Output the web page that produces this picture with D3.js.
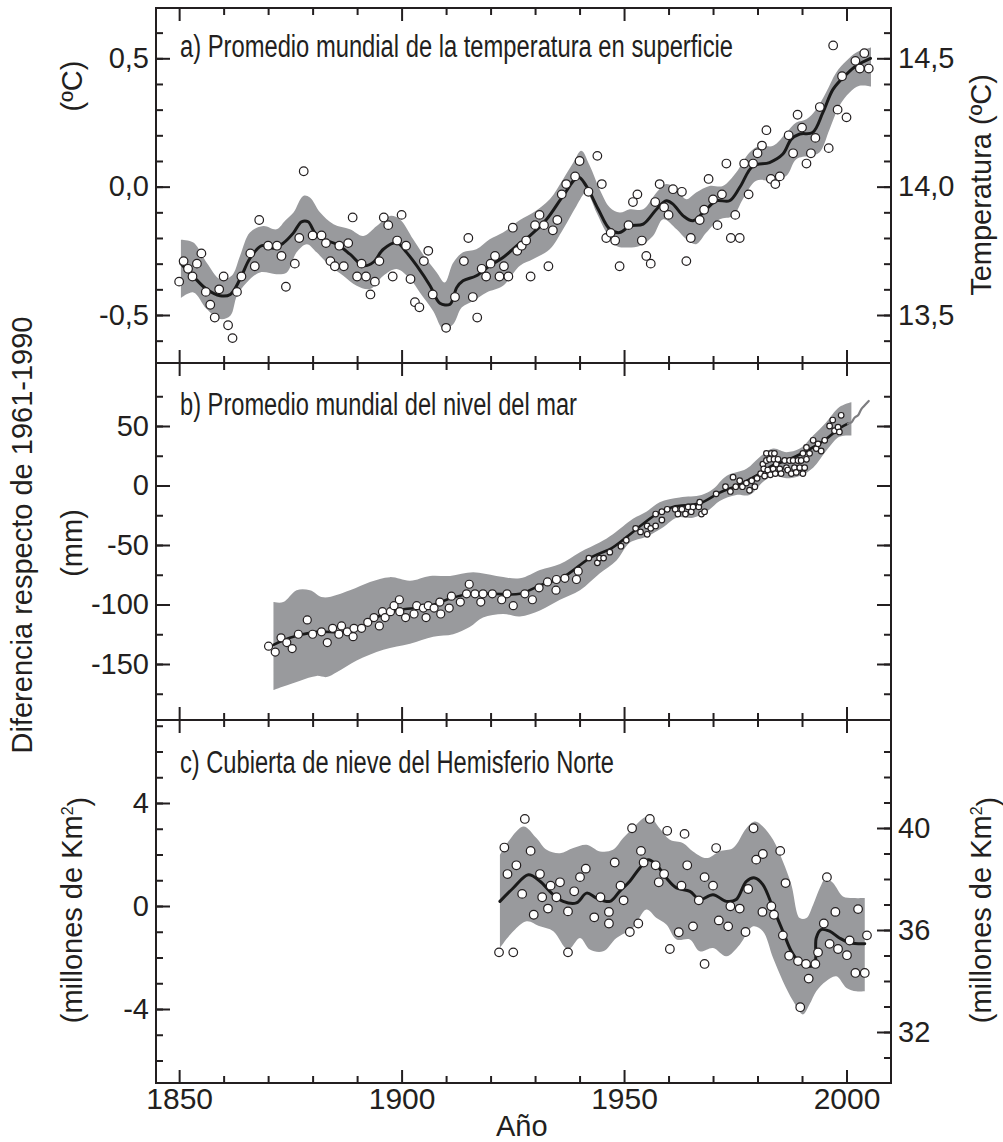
<!DOCTYPE html>
<html>
<head>
<meta charset="utf-8">
<script src="https://cdn.jsdelivr.net/npm/d3@7"></script>
<style>
  body { margin: 0; background: #fff; }
  text { font-family: "Liberation Sans", Arial, Helvetica, sans-serif; fill: #231f20; }
</style>
</head>
<body>
<svg id="chart" width="1003" height="1142"></svg>
<script>
// ---- data ----
const yearLabels = [1850, 1900, 1950, 2000];

// a) global mean surface temperature anomaly (ºC)
const tempPoints = [[1850,-0.37],[1851,-0.29],[1852,-0.32],[1853,-0.35],[1854,-0.30],[1855,-0.26],[1856,-0.41],[1857,-0.46],[1858,-0.51],[1859,-0.40],[1860,-0.35],[1861,-0.54],[1862,-0.59],[1863,-0.41],[1864,-0.35],[1866,-0.26],[1867,-0.31],[1868,-0.13],[1870,-0.23],[1872,-0.23],[1873,-0.27],[1874,-0.39],[1876,-0.30],[1877,-0.20],[1878,0.06],[1880,-0.19],[1882,-0.19],[1883,-0.22],[1884,-0.29],[1885,-0.31],[1886,-0.23],[1887,-0.31],[1888,-0.22],[1889,-0.12],[1890,-0.35],[1891,-0.30],[1892,-0.35],[1893,-0.42],[1894,-0.37],[1895,-0.29],[1896,-0.12],[1897,-0.15],[1898,-0.35],[1899,-0.21],[1900,-0.11],[1901,-0.23],[1902,-0.36],[1903,-0.45],[1904,-0.47],[1905,-0.29],[1906,-0.25],[1907,-0.42],[1910,-0.55],[1912,-0.43],[1914,-0.29],[1915,-0.20],[1916,-0.43],[1917,-0.51],[1918,-0.32],[1919,-0.35],[1920,-0.30],[1921,-0.27],[1922,-0.35],[1923,-0.31],[1924,-0.35],[1925,-0.16],[1926,-0.25],[1927,-0.23],[1928,-0.21],[1929,-0.35],[1930,-0.15],[1931,-0.11],[1932,-0.15],[1933,-0.31],[1934,-0.17],[1935,-0.13],[1936,-0.03],[1937,0.01],[1939,0.04],[1940,0.10],[1942,-0.02],[1944,0.12],[1945,0.01],[1946,-0.20],[1947,-0.18],[1948,-0.21],[1949,-0.31],[1951,-0.15],[1952,-0.06],[1953,-0.03],[1954,-0.21],[1955,-0.27],[1956,-0.30],[1957,-0.06],[1958,0.01],[1959,-0.08],[1960,-0.11],[1961,-0.01],[1963,-0.02],[1964,-0.29],[1965,-0.20],[1967,-0.13],[1968,-0.09],[1969,0.03],[1970,-0.05],[1971,-0.15],[1972,-0.03],[1973,0.09],[1974,-0.20],[1975,-0.11],[1976,-0.20],[1977,0.09],[1978,-0.03],[1979,0.09],[1980,0.13],[1981,0.16],[1982,0.22],[1983,0.03],[1984,0.01],[1985,0.04],[1987,0.20],[1988,0.13],[1989,0.28],[1990,0.23],[1991,0.09],[1992,0.13],[1993,0.19],[1994,0.31],[1996,0.15],[1997,0.55],[1998,0.30],[1999,0.43],[2000,0.27],[2002,0.49],[2003,0.46],[2004,0.52],[2005,0.46]];
const tempLine = [[1850.4,-0.30],[1853.2,-0.35],[1856.2,-0.40],[1859.2,-0.425],[1861.5,-0.42],[1863.7,-0.36],[1865.9,-0.28],[1868.6,-0.23],[1871.2,-0.24],[1873.4,-0.22],[1875.7,-0.18],[1877.5,-0.137],[1879,-0.137],[1880.5,-0.18],[1882.4,-0.205],[1885.4,-0.224],[1888.4,-0.263],[1891.4,-0.308],[1893.6,-0.295],[1895.9,-0.244],[1898.9,-0.218],[1901.1,-0.256],[1903.4,-0.308],[1906.4,-0.386],[1908.6,-0.454],[1910.9,-0.458],[1912.4,-0.393],[1913.8,-0.367],[1916.8,-0.347],[1919.8,-0.308],[1922.8,-0.276],[1926.6,-0.22],[1928.8,-0.192],[1932.6,-0.127],[1936.3,-0.036],[1939.7,0.038],[1941.5,0.003],[1944.2,-0.088],[1946.8,-0.166],[1949,-0.179],[1951.3,-0.153],[1954.3,-0.146],[1957.3,-0.088],[1959.5,-0.055],[1961,-0.068],[1963.3,-0.114],[1965.5,-0.133],[1968.5,-0.088],[1970.7,-0.055],[1973.7,-0.055],[1976,-0.003],[1979,0.081],[1982.7,0.094],[1985.7,0.127],[1987.6,0.185],[1989.5,0.205],[1992.4,0.211],[1994.7,0.289],[1997,0.38],[2000,0.438],[2002.2,0.471],[2005.4,0.50]];
const tempUpper = [[1850.4,-0.207],[1853.2,-0.218],[1856.2,-0.296],[1859.2,-0.36],[1861.8,-0.347],[1863.7,-0.269],[1865.9,-0.179],[1868.9,-0.153],[1871.9,-0.166],[1873.8,-0.133],[1875.7,-0.101],[1877.9,-0.036],[1879.4,-0.042],[1881.7,-0.101],[1884.7,-0.146],[1888.4,-0.166],[1891.4,-0.192],[1894.4,-0.153],[1897.4,-0.114],[1899.6,-0.127],[1902.6,-0.205],[1905.6,-0.283],[1907.9,-0.334],[1909.7,-0.373],[1911.6,-0.296],[1913.8,-0.256],[1916.8,-0.244],[1919.8,-0.205],[1922.8,-0.179],[1926.6,-0.13],[1929.6,-0.101],[1933.3,-0.049],[1936.3,0.029],[1938.6,0.094],[1940.4,0.14],[1942.3,0.081],[1944.5,-0.01],[1946.8,-0.081],[1949,-0.101],[1951.3,-0.088],[1954.3,-0.088],[1957.3,-0.023],[1959.5,0.01],[1961.8,-0.01],[1964,-0.049],[1966.2,-0.023],[1969.2,0.003],[1972.2,0.003],[1975.2,0.055],[1978.2,0.133],[1980.5,0.159],[1983.5,0.159],[1986.5,0.211],[1988.7,0.25],[1991,0.263],[1993.2,0.302],[1995.4,0.367],[1997.7,0.445],[2000,0.49],[2002.2,0.523],[2005.5,0.542]];
const tempLower = [[1850.4,-0.434],[1853.2,-0.412],[1856.2,-0.477],[1859.2,-0.516],[1861.5,-0.503],[1863,-0.425],[1865.2,-0.373],[1868.2,-0.334],[1871.9,-0.341],[1874.2,-0.334],[1876.4,-0.256],[1878.7,-0.224],[1880.9,-0.256],[1883.9,-0.308],[1886.9,-0.347],[1889.9,-0.386],[1892.9,-0.399],[1895.9,-0.347],[1898.9,-0.321],[1901.9,-0.36],[1904.1,-0.412],[1907.1,-0.484],[1909.4,-0.555],[1911.6,-0.536],[1913.5,-0.471],[1916.1,-0.445],[1919.1,-0.412],[1922.8,-0.386],[1926.6,-0.308],[1929.6,-0.282],[1933.3,-0.244],[1936.3,-0.166],[1939.3,-0.075],[1941.5,-0.023],[1943.8,-0.101],[1946,-0.179],[1948.3,-0.231],[1950.5,-0.237],[1953.5,-0.231],[1956.5,-0.192],[1958.8,-0.127],[1961.8,-0.166],[1964,-0.205],[1966.2,-0.224],[1968.5,-0.179],[1971.5,-0.127],[1974.5,-0.114],[1976.7,-0.049],[1979.7,0.023],[1983.5,0.023],[1986.5,0.042],[1988.7,0.107],[1991.7,0.12],[1993.9,0.133],[1996.2,0.224],[1998.4,0.315],[2000.7,0.367],[2002.9,0.393],[2005.5,0.39]];

// b) global mean sea level (mm)
const seaPointsLarge = [[1870.1,-135],[1871.6,-140],[1872.9,-128],[1874.2,-132],[1875.4,-137],[1876.8,-125],[1878.8,-113],[1880,-125],[1882,-123],[1883.3,-132],[1884.5,-120],[1885.9,-125],[1886.5,-118],[1887.8,-123],[1889.1,-127],[1889.3,-120],[1891,-120],[1892.4,-115],[1893.8,-111],[1895,-118],[1895.7,-106],[1896.3,-111],[1897.5,-106],[1898.3,-101],[1899.5,-96],[1899.6,-106],[1900.9,-111],[1902.8,-108],[1903.4,-101],[1904.9,-103],[1905.5,-111],[1906,-101],[1907.3,-103],[1908.6,-98],[1908.8,-108],[1910.7,-103],[1911.2,-93],[1913.2,-98],[1914.6,-91],[1915.2,-83],[1916.5,-91],[1917.8,-98],[1918.3,-91],[1920.4,-91],[1922.5,-96],[1923.7,-91],[1925.1,-101],[1927.7,-91],[1929.4,-96],[1930.9,-86],[1932.8,-81],[1934.7,-88],[1934.8,-79],[1936.7,-78],[1939.3,-79],[1939.7,-72]];
const seaPointsSmall = [[1942.1,-61],[1944,-65],[1944.5,-61],[1945.4,-61],[1946.8,-56],[1949.3,-51],[1950.5,-46],[1952.6,-36],[1953.7,-39],[1955.2,-41],[1955.2,-34],[1956,-36],[1957.1,-34],[1957.1,-24],[1958.5,-29],[1958.5,-22],[1959.7,-20],[1961.5,-20],[1962.1,-24],[1963,-20],[1963.8,-24],[1964.4,-18],[1965.1,-22],[1965.5,-18],[1966.8,-18],[1967,-14],[1967.4,-24],[1968.1,-22],[1970.7,-7],[1972.8,-1],[1973.9,-5],[1974.5,7],[1975.1,-1],[1976,4],[1976.6,-1],[1977.5,2],[1978.2,-4],[1978.7,4],[1979.4,-1],[1979.9,6],[1980.7,10],[1981.2,18],[1981.4,14],[1981.6,8],[1982,21],[1982,27],[1982.3,13],[1982.7,22],[1982.9,9],[1983.1,27],[1983.5,14],[1983.7,22],[1983.8,27],[1984,10],[1984.2,18],[1984.6,22],[1985,14],[1985.3,10],[1986.1,21],[1986.5,15],[1986.8,13],[1987.2,21],[1987.6,10],[1988,21],[1988.3,15],[1988.7,11],[1989.1,21],[1989.5,15],[1989.8,21],[1990.2,27],[1990.2,10],[1990.6,15],[1991,32],[1991,22],[1991.7,27],[1992.5,38],[1993.2,31],[1993.6,35],[1994.3,29],[1995.1,38],[1996.2,50],[1996.9,55],[1997.3,46],[1998.1,49],[1998.4,45],[1998.8,59]];
const seaLine = [[1871.2,-134],[1874.9,-128],[1880.9,-123],[1886.9,-123],[1891.4,-118],[1895.9,-108],[1900.4,-104],[1905.6,-102],[1910.9,-95],[1915.3,-91],[1920.6,-91],[1926.6,-91],[1931.1,-84],[1936.3,-77],[1942.3,-61],[1947.5,-52],[1952,-39],[1957.3,-24],[1961,-18],[1967,-15],[1971.5,-6],[1976,1],[1980.5,10],[1983.5,17],[1986.5,21],[1991,29],[1995.4,39],[1998.4,48],[2000.3,52]];
const seaSatellite = [[2000.3,52],[2001.1,53],[2001.8,57],[2002.6,59],[2003.3,64],[2004,67],[2005,71]];
const seaUpper = [[1871.2,-98],[1873.4,-98],[1876.4,-88],[1879.4,-88],[1882.4,-94],[1888.4,-88],[1892.9,-81],[1897.4,-77],[1901.9,-80],[1906.4,-76],[1910.9,-76],[1916.1,-73],[1921.3,-76],[1926.6,-78],[1931.1,-71],[1935.6,-66],[1940.1,-56],[1944.5,-48],[1947.5,-41],[1952,-28],[1955,-22],[1958,-14],[1962.5,-10],[1967.4,-8],[1970,-3],[1973,8],[1977.5,14],[1980.5,24],[1983.5,31],[1986.5,28],[1989.5,31],[1992.5,42],[1995.4,53],[1998.4,66],[2001.1,70]];
const seaLower = [[1871.2,-172],[1873.4,-169],[1877.2,-164],[1880.9,-160],[1883.2,-161],[1885.4,-157],[1889.9,-147],[1895.9,-138],[1901.9,-133],[1907.1,-127],[1911.6,-125],[1915.3,-119],[1918.3,-111],[1922.8,-108],[1926.6,-110],[1931.1,-105],[1935.6,-96],[1940.1,-88],[1944.5,-74],[1948.3,-63],[1951.3,-48],[1955,-43],[1958.8,-35],[1961.8,-27],[1965.5,-27],[1968.9,-21],[1971.5,-13],[1975.2,-8],[1978.2,-8],[1981.2,3],[1983.5,8],[1986.5,6],[1989.5,8],[1992.5,15],[1995.4,29],[1998.4,41],[2001.1,42]];

// c) Northern Hemisphere snow cover (millones de km2)
const snowPoints = [[1921.9,-1.80],[1923.1,2.27],[1923.8,1.24],[1925.1,-1.80],[1925.8,1.58],[1927.1,0.47],[1927.7,3.38],[1929,2.14],[1929.7,-0.34],[1931.1,1.24],[1931.6,0.34],[1932.9,-0.10],[1933.5,0.79],[1934.8,0.34],[1935.6,0.92],[1937.4,-0.21],[1937.4,-1.80],[1938.8,0.57],[1940.1,1.12],[1941.4,1.45],[1943.3,-0.44],[1944.7,0.34],[1946.6,-0.23],[1946.6,-0.68],[1947.9,1.69],[1949.2,0.79],[1949.9,0.22],[1951.3,-1.01],[1951.8,3.02],[1953.2,-0.68],[1953.8,2.14],[1954.4,1.69],[1955.8,3.38],[1957.1,1.58],[1957.8,0.92],[1959,1.24],[1959.7,2.92],[1960.3,-1.67],[1962.3,-1.02],[1962.9,0.79],[1963.6,2.80],[1964.2,1.58],[1965.5,-0.79],[1966.8,0.22],[1968.1,1.12],[1968.1,-2.25],[1970,0.79],[1970.7,2.25],[1971.3,-0.56],[1973.4,-0.79],[1973.9,-0.01],[1976,-0.10],[1977.3,-1.01],[1977.9,0.66],[1979.1,3.02],[1979.7,1.80],[1981.1,-0.23],[1981.2,2.02],[1983.1,-0.01],[1983.7,-0.34],[1985.1,2.14],[1985.7,-1.14],[1986.3,0.89],[1987.1,-1.93],[1989.1,-2.14],[1989.6,-3.93],[1990.9,-2.25],[1991.5,-2.82],[1993,-2.25],[1993.6,-1.80],[1994.9,-0.68],[1995.6,1.12],[1996.2,-1.47],[1997.5,-0.23],[1998.1,-1.67],[2000.1,-1.91],[2000.7,-1.34],[2002,-2.60],[2002.6,-0.12],[2004.1,-2.60],[2004.6,-1.14]];
const snowLine = [[1922.1,0.18],[1925.1,0.70],[1928.5,1.21],[1931.1,0.96],[1933.7,0.50],[1936.3,0.18],[1939.3,0.12],[1941.6,0.50],[1943.8,0.31],[1946.8,0.18],[1949,0.57],[1951.3,0.96],[1953.5,1.47],[1955.4,1.80],[1957.3,1.60],[1959.5,1.09],[1961.8,0.70],[1964.8,0.57],[1967,0.25],[1970,0.44],[1973,0.18],[1975.2,0.25],[1977.5,0.96],[1979.4,1.09],[1981.2,0.83],[1983.5,-0.08],[1985.7,-0.98],[1987.6,-1.76],[1989.5,-2.21],[1991.3,-2.34],[1992.8,-2.27],[1993.2,-1.24],[1994.3,-0.92],[1996.2,-0.98],[1998.4,-1.24],[2000.7,-1.43],[2004.1,-1.47]];
const snowUpper = [[1922.1,1.99],[1927.3,3.09],[1930.3,2.64],[1932.6,2.18],[1935.6,2.05],[1938.6,2.25],[1941.6,2.38],[1944.6,2.12],[1947.5,2.18],[1949.8,2.64],[1952,3.02],[1954.3,3.41],[1955.8,3.48],[1958,3.02],[1960.3,2.57],[1963.3,2.44],[1965.5,2.12],[1968.5,1.86],[1971.5,2.12],[1974.5,2.25],[1977.5,3.02],[1979.4,3.28],[1981.2,3.09],[1983.5,2.57],[1985.7,1.73],[1987.6,0.83],[1989.5,-0.47],[1991,-0.47],[1992.5,0.05],[1994,0.70],[1995.4,1.09],[1997,0.89],[1999.2,0.37],[2001.4,0.31],[2004.1,0.31]];
const snowLower = [[1922.1,-1.63],[1925.1,-0.98],[1928.1,-0.59],[1931.1,-0.79],[1934.1,-0.98],[1937.4,-1.69],[1940.1,-1.24],[1942.3,-1.69],[1945.3,-1.76],[1948.3,-1.24],[1952,-0.85],[1955,-0.14],[1957.3,-0.47],[1959.5,-0.72],[1961.8,-1.30],[1964.8,-1.30],[1967,-1.76],[1970,-1.63],[1973,-1.95],[1976,-1.50],[1979,-0.79],[1981.2,-0.98],[1983.5,-2.02],[1985.7,-2.92],[1988,-3.69],[1990.2,-4.21],[1991.7,-3.82],[1993.2,-3.31],[1995.4,-2.92],[1997.7,-2.73],[2000,-3.18],[2002.2,-3.31],[2004.1,-3.31]];

// ---- layout ----
const svg = d3.select('#chart');
const frameLeft = 156, frameRight = 891;
const rows = [8, 363, 720, 1083];
const ink = '#231f20';
const bandColor = '#999a9d';

const x = d3.scaleLinear().domain([1844.8, 2010]).range([frameLeft, frameRight]);

const yA = d3.scaleLinear().domain([-0.5, 0.5]).range([315, 58.3]);
const yAr = d3.scaleLinear().domain([13.5, 14.5]).range([315, 58.3]);
const yB = d3.scaleLinear().domain([-150, 50]).range([664, 426]);
const yC = d3.scaleLinear().domain([-4, 4]).range([1009, 803]);
const yCr = d3.scaleLinear().domain([32, 40]).range([1032, 828]);

const es = d3.formatLocale({ decimal: ',', thousands: '.', grouping: [3], currency: ['', ''], minus: '-' });
const fmt1 = es.format('.1f');
const fmt0 = es.format('d');

const tickFont = 29;

// y axes: major with labels, minor without
function yAxis(scale, side, majors, minors, fmt) {
  const xPos = side === 'left' ? frameLeft : frameRight;
  const mk = side === 'left' ? d3.axisLeft : d3.axisRight;
  const gMinor = svg.append('g').attr('transform', `translate(${xPos},0)`)
    .call(mk(scale).tickValues(minors).tickSize(-7).tickFormat(''));
  const gMajor = svg.append('g').attr('transform', `translate(${xPos},0)`)
    .call(mk(scale).tickValues(majors).tickSize(-14).tickPadding(7).tickFormat(fmt || ''));
  [gMinor, gMajor].forEach(g => {
    g.select('.domain').remove();
    g.selectAll('line').attr('stroke', ink).attr('stroke-width', 2);
    g.selectAll('text').style('font-size', tickFont + 'px').attr('fill', ink)
      .style('font-family', null);
  });
}

const rangeTicks = (a, b, s) => d3.range(Math.round(a / s), Math.round(b / s) + 1).map(i => +(i * s).toFixed(3));

yAxis(yA, 'left', [-0.5, 0, 0.5], rangeTicks(-0.6, 0.6, 0.1), fmt1);
yAxis(yAr, 'right', [13.5, 14, 14.5], rangeTicks(13.4, 14.6, 0.1), fmt1);
yAxis(yB, 'left', [-150, -100, -50, 0, 50], rangeTicks(-175, 75, 25), fmt0);
yAxis(yB, 'right', [-150, -100, -50, 0, 50], rangeTicks(-175, 75, 25), null);
yAxis(yC, 'left', [-4, 0, 4], rangeTicks(-6, 7, 1), fmt0);
yAxis(yCr, 'right', [32, 36, 40], rangeTicks(31, 43, 1), fmt0);

// x ticks on the top and bottom of every panel
const decades = d3.range(1850, 2001, 10);
const minorDecades = decades.filter(d => d % 50 !== 0);
for (let i = 0; i < 3; i++) {
  const top = rows[i], bottom = rows[i + 1];
  [[top, d3.axisBottom], [bottom, d3.axisTop]].forEach(([yy, mk]) => {
    const g1 = svg.append('g').attr('transform', `translate(0,${yy})`)
      .call(mk(x).tickValues(minorDecades).tickSize(7).tickFormat(''));
    const g2 = svg.append('g').attr('transform', `translate(0,${yy})`)
      .call(mk(x).tickValues(yearLabels).tickSize(13).tickFormat(''));
    [g1, g2].forEach(g => {
      g.select('.domain').remove();
      g.selectAll('line').attr('stroke', ink).attr('stroke-width', 2);
    });
  });
}
const xLab = svg.append('g').attr('transform', `translate(0,${rows[3]})`)
  .call(d3.axisBottom(x).tickValues(yearLabels).tickSize(0).tickPadding(5).tickFormat(d3.format('d')));
xLab.select('.domain').remove();
xLab.selectAll('text').style('font-size', '30px').attr('fill', ink).style('font-family', null);

// ---- series ----
function band(upper, lower, yScale) {
  const gen = d3.line().x(d => x(d[0])).y(d => yScale(d[1])).curve(d3.curveCatmullRom);
  const d = gen(upper) + gen(lower.slice().reverse()).replace(/^M/, 'L') + 'Z';
  svg.append('path').attr('d', d).attr('fill', bandColor);
}
function curve(data, yScale, color, width) {
  svg.append('path').datum(data)
    .attr('d', d3.line().x(d => x(d[0])).y(d => yScale(d[1])).curve(d3.curveCatmullRom))
    .attr('fill', 'none').attr('stroke', color).attr('stroke-width', width)
    .attr('stroke-linejoin', 'round').attr('stroke-linecap', 'round');
}
function dots(data, yScale, r) {
  svg.append('g').selectAll('circle').data(data).join('circle')
    .attr('cx', d => x(d[0])).attr('cy', d => yScale(d[1])).attr('r', r)
    .attr('fill', '#fff').attr('stroke', ink).attr('stroke-width', 1.2);
}

band(tempUpper, tempLower, yA);
curve(tempLine, yA, '#1a1a1a', 3);
dots(tempPoints, yA, 4.3);

band(seaUpper, seaLower, yB);
curve(seaLine, yB, '#1a1a1a', 2.6);
curve(seaSatellite, yB, '#7d7d80', 2.2);
dots(seaPointsLarge, yB, 4.0);
dots(seaPointsSmall, yB, 2.8);

band(snowUpper, snowLower, yC);
curve(snowLine, yC, '#1a1a1a', 3);
dots(snowPoints, yC, 4.3);

// ---- frame ----
svg.append('rect').attr('x', frameLeft).attr('y', rows[0])
  .attr('width', frameRight - frameLeft).attr('height', rows[3] - rows[0])
  .attr('fill', 'none').attr('stroke', ink).attr('stroke-width', 2);
[rows[1], rows[2]].forEach(yy => {
  svg.append('line').attr('x1', frameLeft).attr('x2', frameRight).attr('y1', yy).attr('y2', yy)
    .attr('stroke', ink).attr('stroke-width', 2);
});

// ---- texts ----
// panel titles are set in a condensed face: squeeze them to the width they take in the figure
const titles = [
  ['a) Promedio mundial de la temperatura en superficie', 57, 553],
  ['b) Promedio mundial del nivel del mar', 415, 397],
  ['c) Cubierta de nieve del Hemisferio Norte', 773, 434]
];
titles.forEach(([t, yy, w]) => {
  svg.append('text').attr('x', 180).attr('y', yy).style('font-size', '31px')
    .attr('textLength', w).attr('lengthAdjust', 'spacingAndGlyphs').text(t);
});

svg.append('text').attr('x', x(1927)).attr('y', 1136).attr('text-anchor', 'middle')
  .style('font-size', '29px').text('Año');

function vText(t, cx, cy, sup) {
  const el = svg.append('text').attr('transform', `translate(${cx},${cy}) rotate(-90)`)
    .attr('text-anchor', 'middle').attr('dy', '0.33em').style('font-size', '29px');
  el.append('tspan').text(t);
  if (sup) {
    el.append('tspan').attr('dy', '-0.55em').style('font-size', '16px').text(sup);
    el.append('tspan').attr('dy', '0.55em').text(')');
  }
}
vText('Diferencia respecto de 1961-1990', 22, 535);
vText('(ºC)', 72, 86);
vText('(mm)', 72, 543);
vText('(millones de Km', 72, 910, '2');
vText('Temperatura (ºC)', 981, 185);
vText('(millones de Km', 981, 910, '2');
</script>
</body>
</html>
